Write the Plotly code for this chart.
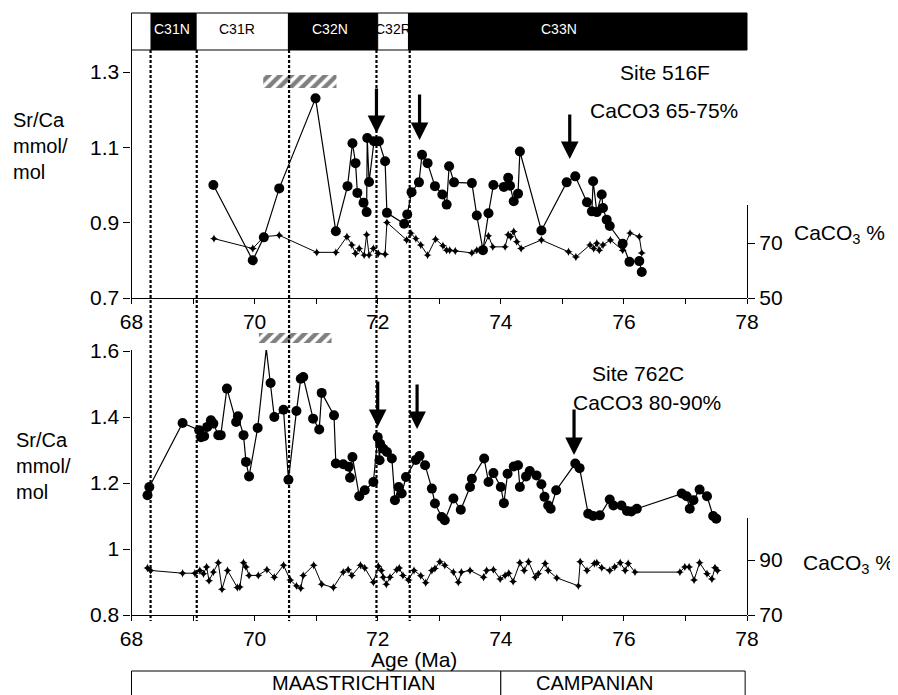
import plotly.graph_objects as go

# reference canvas is 898x695; the page body adds an 8px margin, so the figure is drawn smaller
REF_W, REF_H = 898, 695
OFF = 8
W, H = REF_W - OFF, REF_H - OFF

# ---------------- data ----------------
top_age = [69.33, 69.97, 70.15, 70.40, 70.99, 71.32, 71.51, 71.59, 71.64, 71.67, 71.77, 71.82, 71.83,
           71.86, 71.94, 72.02, 72.12, 72.15, 72.43, 72.48, 72.55, 72.67, 72.72, 72.81, 72.93, 73.05,
           73.12, 73.16, 73.24, 73.53, 73.61, 73.71, 73.80, 73.88, 74.05, 74.12, 74.15, 74.21, 74.28,
           74.31, 74.66, 75.07, 75.21, 75.40, 75.48, 75.50, 75.56, 75.64, 75.66, 75.72, 75.77, 75.98,
           76.09, 76.25, 76.29]
top_srca = [1.000, 0.800, 0.861, 0.991, 1.230, 0.877, 0.997, 1.111, 1.058, 0.979, 0.953, 0.928, 1.125,
            1.008, 1.116, 1.116, 1.063, 0.926, 0.897, 0.922, 0.981, 1.007, 1.080, 1.058, 0.997, 0.975,
            0.948, 1.050, 1.007, 1.005, 0.919, 0.827, 0.925, 1.000, 0.995, 1.019, 0.998, 0.957, 0.977,
            1.089, 0.879, 1.007, 1.023, 0.954, 0.930, 1.010, 0.928, 0.975, 0.939, 0.908, 0.891, 0.844,
            0.796, 0.798, 0.769]

top_c_age = [69.34, 69.97, 70.15, 70.40, 71.01, 71.32, 71.50, 71.58, 71.64, 71.70, 71.78, 71.82, 71.86,
             71.93, 72.01, 72.12, 72.15, 72.47, 72.54, 72.62, 72.70, 72.81, 72.94, 73.06, 73.12, 73.17,
             73.26, 73.53, 73.61, 73.71, 73.80, 73.87, 74.07, 74.12, 74.16, 74.21, 74.26, 74.33, 74.66,
             75.10, 75.22, 75.45, 75.51, 75.56, 75.60, 75.66, 75.78, 75.98, 76.10, 76.25, 76.29]
top_caco3 = [71.6, 68.0, 72.3, 72.8, 66.6, 66.6, 72.3, 69.3, 66.2, 68.0, 65.6, 73.0, 65.6,
             68.0, 66.2, 65.9, 77.5, 71.1, 73.6, 71.6, 69.3, 65.6, 71.4, 69.0, 67.4, 67.4,
             67.1, 66.4, 67.4, 68.0, 72.6, 68.6, 68.6, 73.0, 72.3, 74.2, 70.5, 68.0, 71.1,
             66.8, 64.9, 69.3, 68.0, 69.9, 67.4, 69.3, 71.1, 67.4, 73.6, 72.3, 66.4]

bot_age = [68.26, 68.29, 68.83, 69.10, 69.13, 69.18, 69.23, 69.29, 69.33, 69.41, 69.45, 69.55, 69.70,
           69.73, 69.82, 69.86, 69.91, 70.05, 70.19, 70.26, 70.32, 70.47, 70.55, 70.68, 70.75, 70.79,
           70.95, 71.05, 71.09, 71.29, 71.32, 71.44, 71.53, 71.55, 71.59, 71.70, 71.79, 71.93, 72.00,
           72.03, 72.04, 72.09, 72.15, 72.23, 72.28, 72.34, 72.39, 72.46, 72.62, 72.68, 72.77, 72.88,
           72.93, 73.04, 73.09, 73.23, 73.35, 73.50, 73.53, 73.73, 73.80, 73.88, 74.00, 74.05, 74.11,
           74.21, 74.28, 74.31, 74.41, 74.47, 74.58, 74.66, 74.71, 74.77, 74.81, 74.90, 75.21, 75.28,
           75.42, 75.50, 75.61, 75.77, 75.83, 75.96, 76.05, 76.12, 76.21, 76.94, 77.02, 77.07, 77.13,
           77.23, 77.35, 77.45, 77.50]
bot_srca = [1.163, 1.188, 1.382, 1.360, 1.339, 1.342, 1.370, 1.390, 1.380, 1.345, 1.345, 1.486, 1.385,
            1.402, 1.345, 1.264, 1.220, 1.367, 1.607, 1.503, 1.400, 1.422, 1.210, 1.418, 1.516, 1.521,
            1.395, 1.362, 1.473, 1.405, 1.259, 1.257, 1.249, 1.216, 1.279, 1.160, 1.178, 1.203, 1.339,
            1.269, 1.319, 1.304, 1.294, 1.274, 1.148, 1.188, 1.168, 1.218, 1.270, 1.282, 1.254, 1.183,
            1.138, 1.097, 1.087, 1.153, 1.119, 1.188, 1.213, 1.274, 1.203, 1.230, 1.188, 1.139, 1.228,
            1.250, 1.254, 1.188, 1.220, 1.236, 1.223, 1.196, 1.158, 1.132, 1.122, 1.178, 1.259, 1.245,
            1.107, 1.100, 1.102, 1.150, 1.132, 1.132, 1.115, 1.114, 1.122, 1.168, 1.160, 1.122, 1.148,
            1.180, 1.160, 1.100, 1.092]

bot_c_age = [68.26, 68.31, 68.83, 69.03, 69.11, 69.17, 69.22, 69.26, 69.33, 69.41, 69.47, 69.56, 69.72,
             69.76, 69.82, 69.86, 69.91, 70.06, 70.20, 70.32, 70.47, 70.58, 70.68, 70.75, 70.79, 70.96,
             71.09, 71.28, 71.44, 71.52, 71.58, 71.72, 71.79, 71.93, 72.01, 72.06, 72.09, 72.14, 72.20,
             72.31, 72.35, 72.41, 72.50, 72.59, 72.70, 72.78, 72.88, 72.93, 73.01, 73.09, 73.23, 73.31,
             73.36, 73.50, 73.72, 73.77, 73.88, 73.99, 74.07, 74.13, 74.20, 74.31, 74.38, 74.45, 74.56,
             74.61, 74.72, 74.77, 74.91, 75.26, 75.29, 75.40, 75.52, 75.56, 75.64, 75.77, 75.85, 75.94,
             76.02, 76.07, 76.18, 76.91, 76.99, 77.06, 77.14, 77.23, 77.35, 77.43, 77.48, 77.52]
bot_caco3 = [87.1, 86.2, 85.2, 85.2, 86.2, 85.0, 87.5, 82.5, 85.6, 89.0, 79.4, 86.2, 80.0,
             80.2, 89.0, 87.5, 84.4, 84.4, 86.5, 83.7, 88.1, 82.7, 80.6, 79.7, 84.4, 88.1,
             81.2, 80.0, 85.6, 86.5, 84.4, 88.1, 87.1, 81.9, 87.7, 86.2, 83.7, 81.2, 83.7,
             86.5, 87.1, 84.4, 82.7, 86.2, 84.3, 81.7, 86.2, 86.9, 89.4, 88.1, 85.6, 81.9,
             85.6, 86.2, 83.7, 86.2, 86.5, 83.1, 84.4, 85.2, 82.2, 89.0, 86.2, 89.4, 83.7,
             85.0, 88.7, 86.2, 83.5, 80.6, 89.4, 86.2, 88.7, 89.0, 87.2, 86.2, 87.5, 89.0,
             86.2, 88.7, 85.6, 85.6, 87.5, 87.5, 82.7, 89.0, 85.0, 83.1, 87.2, 86.2]

# magnetochrons (age boundaries) and labels
chron_edges = [68.0, 68.32, 69.05, 70.55, 72.0, 72.5, 78.0]
chron_fill = ["white", "black", "white", "black", "white", "black"]
chron_names = ["", "C31N", "C31R", "C32N", "C32R", "C33N"]
chron_label_age = [68.16, 68.66, 69.72, 71.23, 72.25, 74.95]
boundary_lines = [68.31, 69.06, 70.56, 71.98, 72.52]
stage_edges = [68.0, 74.0, 77.97]
stage_names = ["MAASTRICHTIAN", "CAMPANIAN"]
stage_label_age = [71.6, 75.53]
arrow_top_age = [71.98, 72.68, 75.12]
arrow_bot_age = [72.0, 72.64, 75.19]
x_ticks = list(range(68, 79))
x_ticktext = [str(v) if v % 2 == 0 else "" for v in x_ticks]

# ---------------- layout geometry (reference pixels) ----------------
def px(v):
    return (v - OFF) / W

def py(v):
    return 1 - (v - OFF) / H

X0, X1 = 131.5, 747.0
TOP_Y0, TOP_Y1 = 298.0, 50.0
BOT_Y0, BOT_Y1 = 615.0, 350.0
ppu_top = (298 - 72) / 0.6
ppu_bot = (615 - 351) / 0.8
age_ppx = (X1 - X0) / 10.0

FONT = "Liberation Sans, Arial, Helvetica, sans-serif"

fig = go.Figure()

line_sr = dict(color="black", width=1.2)
mk_sr = dict(color="black", size=10, symbol="circle")
line_c = dict(color="black", width=1)
mk_c = dict(color="black", size=6, symbol="star-diamond")

fig.add_trace(go.Scatter(x=top_c_age, y=top_caco3, xaxis="x", yaxis="y2", mode="lines+markers",
                         line=line_c, marker=mk_c, cliponaxis=False, showlegend=False))
fig.add_trace(go.Scatter(x=top_age, y=top_srca, xaxis="x", yaxis="y", mode="lines+markers",
                         line=line_sr, marker=mk_sr, cliponaxis=False, showlegend=False))
fig.add_trace(go.Scatter(x=bot_c_age, y=bot_caco3, xaxis="x2", yaxis="y4", mode="lines+markers",
                         line=line_c, marker=mk_c, cliponaxis=False, showlegend=False))
fig.add_trace(go.Scatter(x=bot_age, y=bot_srca, xaxis="x2", yaxis="y3", mode="lines+markers",
                         line=line_sr, marker=mk_sr, cliponaxis=False, showlegend=False))

# hatched bars (decoration layer: x in age, y in reference pixels from top)
for (a0, a1, y0, y1) in [(70.14, 71.33, 75, 88), (70.07, 71.25, 333, 343)]:
    fig.add_trace(go.Scatter(x=[a0, a1, a1, a0, a0], y=[y0, y0, y1, y1, y0], xaxis="x3", yaxis="y5",
                             mode="lines", fill="toself", line=dict(width=0, color="rgba(0,0,0,0)"),
                             fillcolor="white",
                             fillpattern=dict(shape="/", fgcolor="black", bgcolor="white", size=8,
                                              solidity=0.55),
                             hoverinfo="skip", showlegend=False))

shapes = []
for i in range(len(chron_fill)):
    shapes.append(dict(type="rect", xref="x3", yref="y5", x0=chron_edges[i], x1=chron_edges[i + 1],
                       y0=13, y1=50, fillcolor=chron_fill[i], line=dict(color="black", width=1),
                       layer="below"))
for a in boundary_lines:
    shapes.append(dict(type="line", xref="x3", yref="y5", x0=a, x1=a, y0=50, y1=621,
                       line=dict(color="black", width=2.2, dash="3px,2px"), layer="above"))
for i in range(len(stage_names)):
    shapes.append(dict(type="rect", xref="x3", yref="y5", x0=stage_edges[i], x1=stage_edges[i + 1],
                       y0=671, y1=705, fillcolor="white", line=dict(color="black", width=1),
                       layer="below"))

annotations = []
for name, a, f in zip(chron_names, chron_label_age, chron_fill):
    if name:
        annotations.append(dict(xref="x3", yref="y5", x=a, y=29, text=name, showarrow=False,
                                font=dict(family=FONT, size=14,
                                          color="black" if f == "white" else "white")))
for name, a in zip(stage_names, stage_label_age):
    annotations.append(dict(xref="x3", yref="y5", x=a, y=683, text=name, showarrow=False,
                            font=dict(family=FONT, size=20, color="black")))

def txt(a, y, s, size=21, xanchor="center", align="center"):
    annotations.append(dict(xref="x3", yref="y5", x=a, y=y, text=s, showarrow=False,
                            xanchor=xanchor, align=align, yanchor="middle",
                            font=dict(family=FONT, size=size, color="black")))

def age_of(xpx):
    return 68 + (xpx - X0) / age_ppx

txt(age_of(665), 72, "Site 516F")
txt(age_of(664), 110, "CaCO3 65-75%")
txt(age_of(638), 373, "Site 762C")
txt(age_of(647), 402, "CaCO3 80-90%")
txt(age_of(414), 659, "Age (Ma)")
txt(age_of(11), 146, "Sr/Ca<br>mmol/<br>mol", size=20, xanchor="left", align="left")
txt(age_of(14), 466, "Sr/Ca<br>mmol/<br>mol", size=20, xanchor="left", align="left")
txt(age_of(792), 234, "CaCO<sub>3</sub> %", size=21, xanchor="left", align="left")
txt(age_of(801), 564, "CaCO<sub>3</sub> %", size=21, xanchor="left", align="left")

for a, (top, tip) in zip(arrow_top_age, [(87, 133), (93, 140), (113, 159)]):
    annotations.append(dict(xref="x3", yref="y5", x=a, y=tip, ax=0, ay=-(tip - top), text="",
                            showarrow=True, arrowhead=2, arrowsize=1.1, arrowwidth=3.2,
                            arrowcolor="black"))
for a, (top, tip) in zip(arrow_bot_age, [(380, 427), (383, 429), (408, 455)]):
    annotations.append(dict(xref="x3", yref="y5", x=a, y=tip, ax=0, ay=-(tip - top), text="",
                            showarrow=True, arrowhead=2, arrowsize=1.1, arrowwidth=3.2,
                            arrowcolor="black"))

tickfont = dict(family=FONT, size=21, color="black")
common_x = dict(range=[68, 78], domain=[px(X0), px(X1)], tickmode="array", tickvals=x_ticks,
                ticktext=x_ticktext, ticks="outside", ticklen=5, tickcolor="black",
                showline=True, linecolor="black", linewidth=1.2, showgrid=False, zeroline=False,
                tickfont=tickfont, automargin=False)
common_y = dict(ticks="outside", ticklen=7, tickcolor="black", showline=True, linecolor="black",
                linewidth=1.2, showgrid=False, zeroline=False, tickfont=tickfont, automargin=False,
                tickmode="array")

x3_lo = 68 - (X0 - OFF) / age_ppx
x3_hi = 68 + (REF_W - X0) / age_ppx

fig.update_layout(
    width=W, height=H,
    margin=dict(l=0, r=0, t=0, b=0),
    paper_bgcolor="white", plot_bgcolor="rgba(0,0,0,0)",
    showlegend=False,
    xaxis=dict(anchor="y", **common_x),
    xaxis2=dict(anchor="y3", **common_x),
    yaxis=dict(domain=[py(TOP_Y0), py(TOP_Y1)], anchor="x",
               range=[0.7, 0.7 + (TOP_Y0 - TOP_Y1) / ppu_top],
               tickvals=[0.7, 0.9, 1.1, 1.3], ticktext=["0.7", "0.9", "1.1", "1.3"], **common_y),
    yaxis2=dict(domain=[py(TOP_Y0), py(205)], anchor="x", side="right",
                range=[50, 50 + (TOP_Y0 - 205) / 2.75],
                tickvals=[50, 70], ticktext=["50", "70"], **common_y),
    yaxis3=dict(domain=[py(BOT_Y0), py(BOT_Y1)], anchor="x2",
                range=[0.8, 0.8 + (BOT_Y0 - BOT_Y1) / ppu_bot],
                tickvals=[0.8, 1.0, 1.2, 1.4, 1.6], ticktext=["0.8", "1", "1.2", "1.4", "1.6"],
                **common_y),
    yaxis4=dict(domain=[py(BOT_Y0), py(518)], anchor="x2", side="right",
                range=[70, 70 + (BOT_Y0 - 518) / 2.75],
                tickvals=[70, 90], ticktext=["70", "90"], **common_y),
    xaxis3=dict(domain=[0, 1], range=[x3_lo, x3_hi], anchor="y5", visible=False, fixedrange=True),
    yaxis5=dict(domain=[0, 1], range=[REF_H, OFF], anchor="x3", visible=False, fixedrange=True),
    shapes=shapes,
    annotations=annotations,
)

fig.write_html("out.html")
